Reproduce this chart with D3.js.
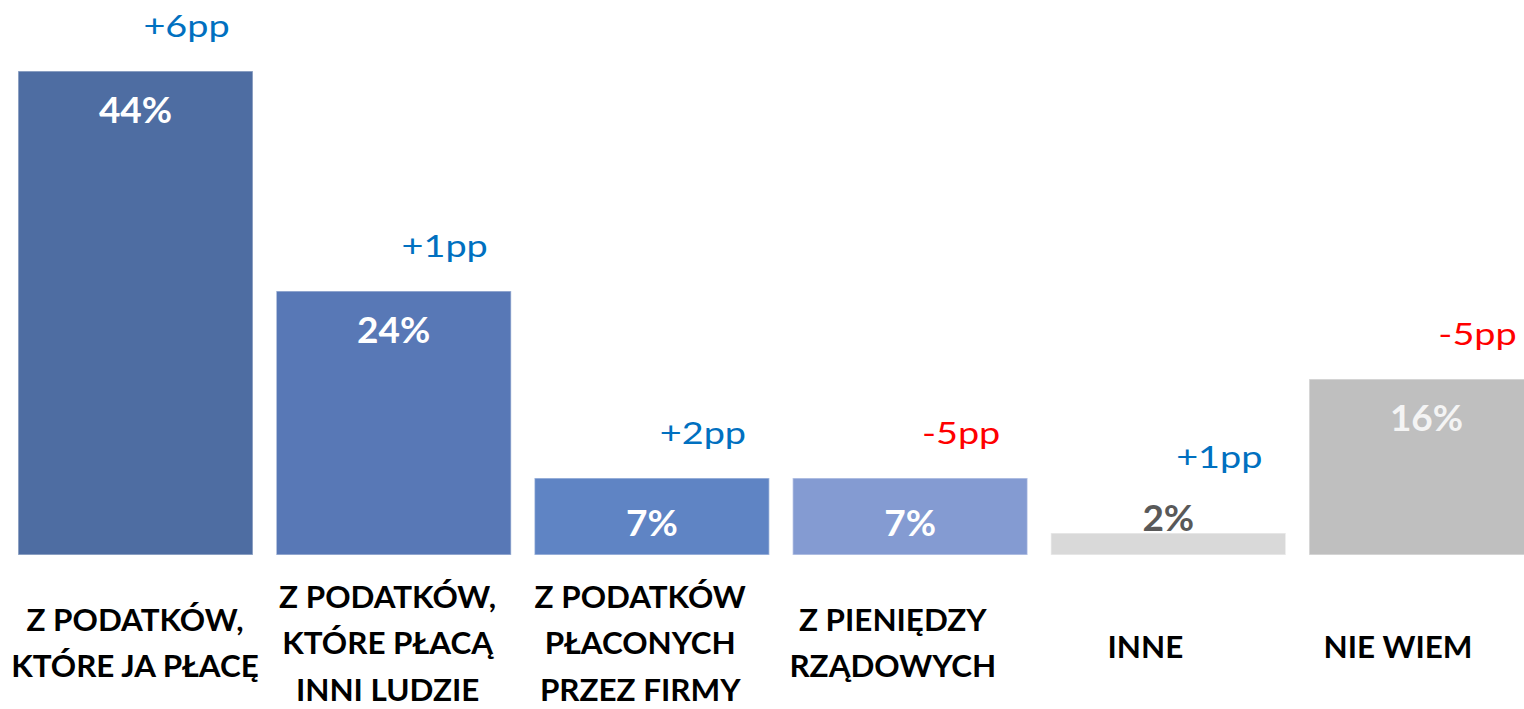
<!DOCTYPE html>
<html>
<head>
<meta charset="utf-8">
<script src="https://cdn.jsdelivr.net/npm/d3@7"></script>
<style>
  html, body { margin: 0; padding: 0; background: #fff; overflow: hidden; }
  svg { display: block; }
</style>
</head>
<body>
<svg id="chart" width="1524" height="709"></svg>
<script>
// ---- data ----
const categories = [
  "Z PODATKÓW, KTÓRE JA PŁACĘ",
  "Z PODATKÓW, KTÓRE PŁACĄ INNI LUDZIE",
  "Z PODATKÓW PŁACONYCH PRZEZ FIRMY",
  "Z PIENIĘDZY RZĄDOWYCH",
  "INNE",
  "NIE WIEM"
];
const categoryLines = [
  ["Z PODATKÓW,", "KTÓRE JA PŁACĘ"],
  ["Z PODATKÓW,", "KTÓRE PŁACĄ", "INNI LUDZIE"],
  ["Z PODATKÓW", "PŁACONYCH", "PRZEZ FIRMY"],
  ["Z PIENIĘDZY", "RZĄDOWYCH"],
  ["INNE"],
  ["NIE WIEM"]
];
const values = [44, 24, 7, 7, 2, 16];
const valueLabels = ["44%", "24%", "7%", "7%", "2%", "16%"];
const changes = [6, 1, 2, -5, 1, -5];
const changeLabels = ["+6pp", "+1pp", "+2pp", "-5pp", "+1pp", "-5pp"];

// ---- styles ----
const barColors = ["#4E6DA2", "#5878B6", "#5F84C4", "#849BD2", "#D9D9D9", "#BFBFBF"];
const labelColors = ["#FFFFFF", "#FFFFFF", "#FFFFFF", "#FFFFFF", "#595959", "#F4F4F4"];
const posColor = "#0070C0", negColor = "#FF0000";

const svg = d3.select("#chart");

const x = d3.scaleBand().domain(categories).range([6.4, 1555.6])
  .paddingInner(0.09).paddingOuter(0.045);
const xLabel = d3.scaleBand().domain(categories).range([8.7, 1524.3]);
const y = d3.scaleLinear().domain([0, 44]).range([555, 71]);

const data = categories.map((c, i) => ({
  c, i, v: values[i], vl: valueLabels[i], ch: changes[i], chl: changeLabels[i]
}));

// bars
svg.append("g").selectAll("rect").data(data).join("rect")
  .attr("x", d => x(d.c))
  .attr("y", d => y(d.v))
  .attr("width", x.bandwidth())
  .attr("height", d => y(0) - y(d.v))
  .attr("fill", d => barColors[d.i])
  .attr("stroke", "rgba(255,255,255,0.45)")
  .attr("stroke-width", 1.5);

const bodyFont = "Lato, 'Open Sans', sans-serif";

// value labels
svg.append("g").selectAll("text").data(data).join("text")
  .attr("x", d => x(d.c) + x.bandwidth() / 2)
  .attr("y", d => {
    const h = y(0) - y(d.v);
    if (h < 40) return y(d.v) - 2;          // outside, on top of bar
    if (h < 100) return y(0) - 19;           // small bar
    return y(d.v) + 52;
  })
  .attr("text-anchor", "middle")
  .attr("font-family", bodyFont)
  .attr("font-weight", 700)
  .attr("font-size", 37)
  .attr("fill", d => labelColors[d.i])
  .text(d => d.vl);

// change labels
svg.append("g").selectAll("text").data(data).join("text")
  .attr("transform", d => {
    const h = y(0) - y(d.v);
    const anchorTop = h < 40 ? y(d.v) - 2 - 29 : y(d.v);
    const cx = x(d.c) + x.bandwidth() / 2 + 51;
    return `translate(${cx},${anchorTop - 34}) scale(1.2,1)`;
  })
  .attr("text-anchor", "middle")
  .attr("font-family", bodyFont)
  .attr("font-weight", 400)
  .attr("font-size", 31.5)
  .attr("fill", d => d.ch >= 0 ? posColor : negColor)
  .text(d => d.chl);

// category labels
const lineH = 46.5, meanBaseline = 654;
const cg = svg.append("g").selectAll("text").data(data).join("text")
  .attr("text-anchor", "middle")
  .attr("font-family", bodyFont)
  .attr("font-weight", 700)
  .attr("font-size", 31.4)
  .attr("fill", "#000");
cg.each(function(d) {
  const lines = categoryLines[d.i];
  const n = lines.length;
  const cx = xLabel(d.c) + xLabel.bandwidth() / 2;
  const first = meanBaseline - (n - 1) * lineH / 2 + (n === 1 ? 4 : 0);
  d3.select(this).selectAll("tspan").data(lines).join("tspan")
    .attr("x", cx)
    .attr("y", (l, k) => first + k * lineH)
    .text(l => l);
});
</script>
</body>
</html>
